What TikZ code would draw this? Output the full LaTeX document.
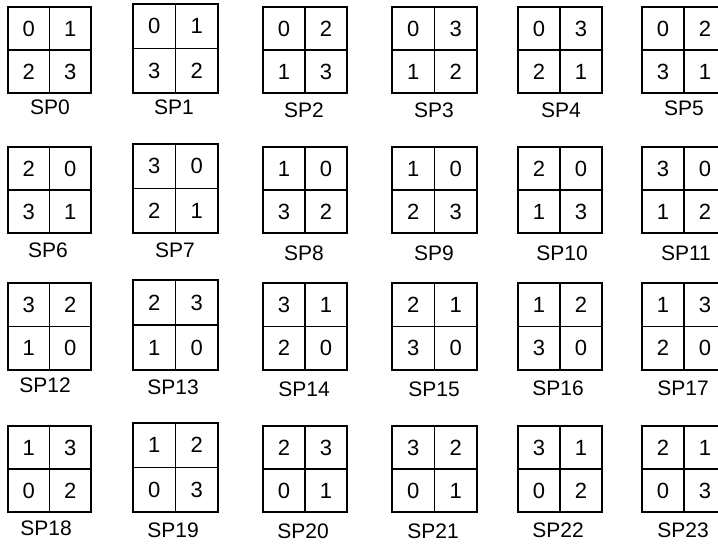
\documentclass[tikz,border=0pt]{standalone}
\usepackage{fontspec}
\setmainfont{Liberation Sans}
\begin{document}
\begin{tikzpicture}[x=1pt,y=-1pt,
  box/.style={draw, line width=1.6pt, inner sep=0pt},
  cross/.style={line width=1.6pt},
  dig/.style={font=\fontsize{22}{22}\selectfont, inner sep=0pt},
  lab/.style={font=\fontsize{21}{21}\selectfont, inner sep=0pt}]
\path[use as bounding box] (0,0) rectangle (718,544);
\clip (0,0) rectangle (718,544);
\foreach \n/\L/\T/\W/\H/\a/\b/\c/\d/\lx/\ly in {
0/8/7/83/86/0/1/2/3/50/107,
1/133/4/85/89/0/1/3/2/174/107,
2/263/7/84/86/0/2/1/3/304/110,
3/392/7/85/86/0/3/1/2/434/110,
4/518/7/84/86/0/3/2/1/561/110,
5/642/7/84/86/0/2/3/1/684/108,
6/8/147/83/86/2/0/3/1/48/250,
7/133/144/85/89/3/0/2/1/175/250,
8/263/147/84/86/1/0/3/2/304/253,
9/392/147/85/86/1/0/2/3/434/253,
10/518/147/84/86/2/0/1/3/562/253,
11/642/147/84/86/3/0/1/2/686/253,
12/8/283/83/87/3/2/1/0/45/385,
13/133/280/85/90/2/3/1/0/173/387,
14/263/283/84/87/3/1/2/0/304/389,
15/392/283/85/87/2/1/3/0/434/389,
16/518/283/84/87/1/2/3/0/558/388,
17/642/283/84/87/1/3/2/0/683/388,
18/8/426/83/86/1/3/0/2/46/528,
19/133/423/85/89/1/2/0/3/173/530,
20/263/426/84/86/2/3/0/1/303/531,
21/392/426/85/86/3/2/0/1/433/531,
22/518/426/84/86/3/1/0/2/558/530,
23/642/426/84/86/2/1/0/3/683/530}{
  \node[box, minimum width=\W pt, minimum height=\H pt] (sp\n) at ({\L+\W/2},{\T+\H/2}) {};
  \draw[cross] (sp\n.north) -- (sp\n.south);
  \draw[cross] (sp\n.west) -- (sp\n.east);
  \node[dig] (sp\n-a) at ([shift={({-\W/4},{-\H/4})}]sp\n.center) {\a};
  \node[dig] (sp\n-b) at ([shift={({\W/4},{-\H/4})}]sp\n.center) {\b};
  \node[dig] (sp\n-c) at ([shift={({-\W/4},{\H/4})}]sp\n.center) {\c};
  \node[dig] (sp\n-d) at ([shift={({\W/4},{\H/4})}]sp\n.center) {\d};
  \node[lab] (lab\n) at (\lx,\ly) {SP\n};
}
\end{tikzpicture}
\end{document}
